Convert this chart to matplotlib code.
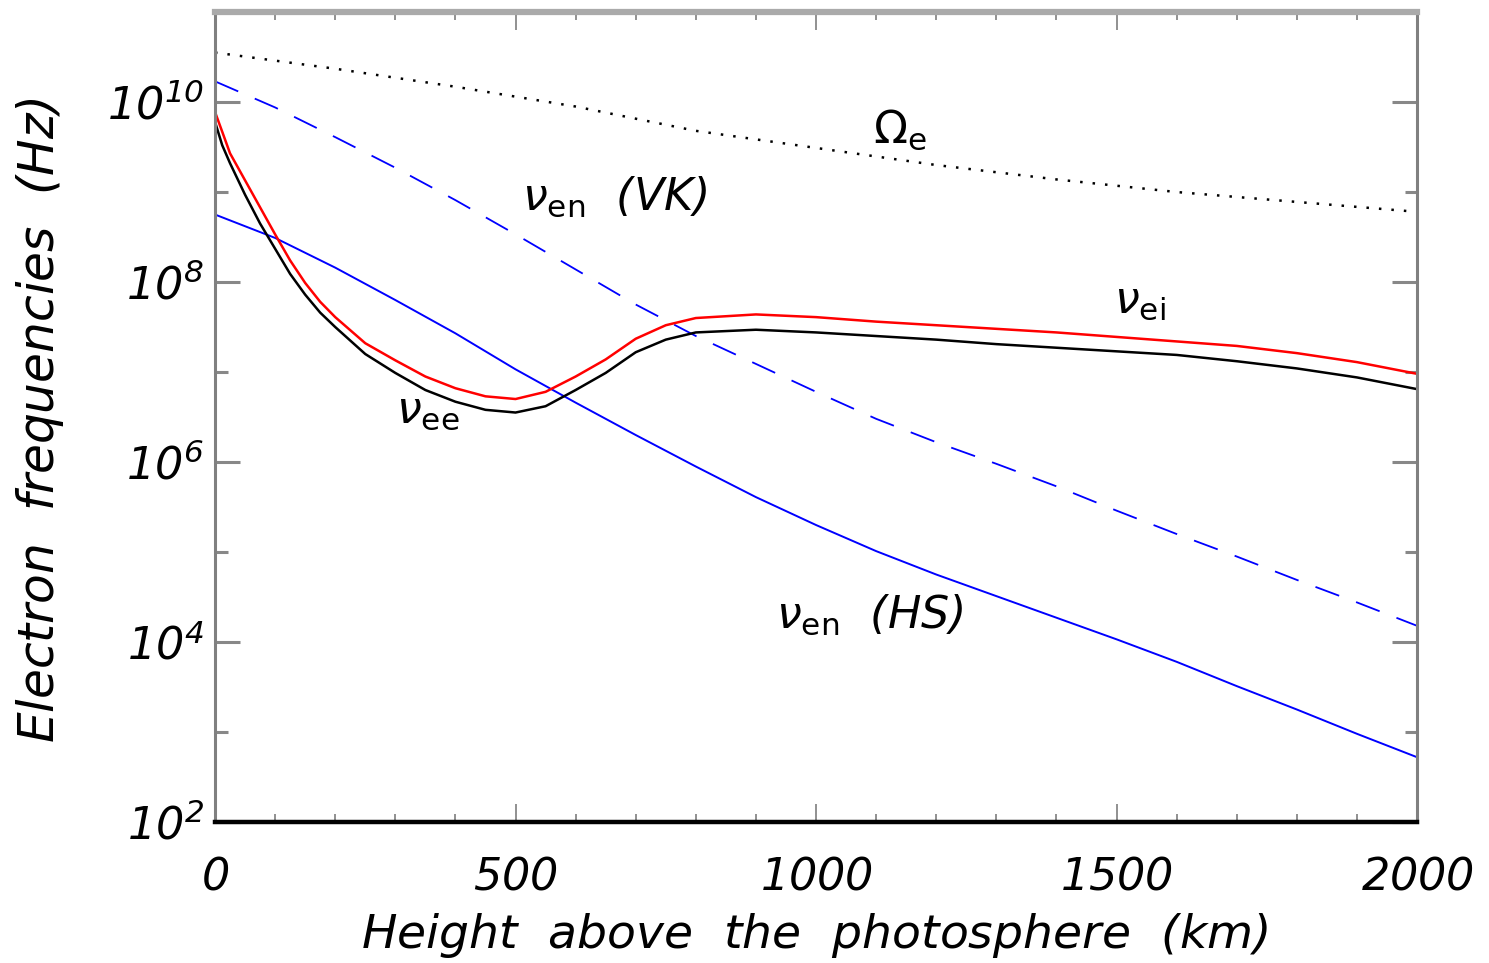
import numpy as np
import matplotlib
matplotlib.use("Agg")
import matplotlib.pyplot as plt
from matplotlib.ticker import FixedLocator, FuncFormatter, NullFormatter

# Height above the photosphere (km) for the collision curves
height_km = [0, 12, 25, 50, 75, 100, 125, 150, 175, 200, 250, 300, 350, 400,
             450, 500, 550, 600, 650, 700, 750, 800, 900, 1000, 1100, 1200,
             1300, 1400, 1500, 1600, 1700, 1800, 1900, 2000]

# log10 of the electron frequencies (Hz)
log_nu_ei = [9.89, 9.67, 9.43, 9.13, 8.83, 8.53, 8.24, 7.99, 7.78, 7.61, 7.32,
             7.13, 6.95, 6.82, 6.73, 6.70, 6.78, 6.95, 7.14, 7.37, 7.52, 7.60,
             7.64, 7.61, 7.56, 7.52, 7.48, 7.44, 7.39, 7.34, 7.29, 7.21, 7.11,
             6.98]
log_nu_ee = [9.78, 9.52, 9.32, 8.97, 8.65, 8.37, 8.09, 7.86, 7.66, 7.50, 7.20,
             6.99, 6.80, 6.67, 6.58, 6.55, 6.62, 6.80, 6.99, 7.22, 7.36, 7.44,
             7.47, 7.44, 7.40, 7.36, 7.31, 7.27, 7.23, 7.19, 7.12, 7.04, 6.94,
             6.81]

height_coarse = [0, 100, 200, 300, 400, 500, 600, 700, 800, 900, 1000, 1100,
                 1200, 1300, 1400, 1500, 1600, 1700, 1800, 1900, 2000]
log_nu_en_hs = [8.75, 8.49, 8.16, 7.80, 7.43, 7.03, 6.66, 6.30, 5.95, 5.61,
                5.30, 5.01, 4.75, 4.51, 4.27, 4.03, 3.78, 3.51, 3.25, 2.98, 2.72]
log_nu_en_vk = [10.23, 9.94, 9.61, 9.27, 8.91, 8.53, 8.14, 7.75, 7.40, 7.09,
                6.78, 6.48, 6.22, 5.98, 5.73, 5.46, 5.20, 4.95, 4.69, 4.44, 4.18]

height_omega = [0, 200, 400, 600, 800, 1000, 1200, 1400, 1600, 1800, 2000]
log_omega_e = [10.55, 10.37, 10.17, 9.95, 9.68, 9.49, 9.30, 9.14, 9.00, 8.89, 8.78]

major_decades = [2, 4, 6, 8, 10]
minor_decades = [3, 5, 7, 9]
x_ticks = [0, 500, 1000, 1500, 2000]


def main():
    """Electron collision / gyro frequencies versus height."""
    plt.rcParams['font.family'] = ['DejaVu Sans']
    # italic digits and letters, upright subscripts via \mathsf
    plt.rcParams['mathtext.fontset'] = 'custom'
    plt.rcParams['mathtext.rm'] = 'DejaVu Sans:italic'
    plt.rcParams['mathtext.it'] = 'DejaVu Sans:italic'
    plt.rcParams['mathtext.sf'] = 'DejaVu Sans'

    fig = plt.figure(figsize=(14.89, 9.63), dpi=100)
    ax = fig.add_axes([0.1444, 0.1464, 0.8073, 0.8411])

    h = np.array(height_km)
    hc = np.array(height_coarse)
    ho = np.array(height_omega)

    ax.plot(ho, 10.0 ** np.array(log_omega_e), color='black', lw=1.8,
            linestyle=(0, (1, 4)))
    line_vk, = ax.plot(hc, 10.0 ** np.array(log_nu_en_vk), color='#0000ff', lw=1.3)
    line_vk.set_dashes([14, 10])
    ax.plot(hc, 10.0 ** np.array(log_nu_en_hs), color='#0000ff', lw=1.4)
    ax.plot(h, 10.0 ** np.array(log_nu_ee), color='black', lw=1.8)
    ax.plot(h, 10.0 ** np.array(log_nu_ei), color='#ff0000', lw=1.8)

    ax.set_yscale('log')
    ax.set_xlim(0, 2000)
    ax.set_ylim(1e2, 1e11)

    # ticks
    ax.xaxis.set_major_locator(FixedLocator(x_ticks))
    ax.xaxis.set_minor_locator(FixedLocator(list(range(0, 2001, 100))))
    ax.yaxis.set_major_locator(FixedLocator([10.0 ** d for d in major_decades]))
    ax.yaxis.set_minor_locator(FixedLocator([10.0 ** d for d in minor_decades]))
    ax.yaxis.set_major_formatter(
        FuncFormatter(lambda v, p: r'$10^{%d}$' % int(round(np.log10(v)))))
    ax.yaxis.set_minor_formatter(NullFormatter())
    ax.xaxis.set_major_formatter(FuncFormatter(lambda v, p: r'$%d$' % v))

    ax.tick_params(axis='both', which='both', direction='in', top=True,
                   right=True, colors='#888888', labelcolor='black')
    ax.tick_params(axis='x', which='major', length=13, width=1.3, pad=24,
                   labelsize=32)
    ax.tick_params(axis='x', which='minor', length=6, width=1.3)
    ax.tick_params(axis='y', which='major', length=18, width=2.2, pad=8,
                   labelsize=32)
    ax.tick_params(axis='y', which='minor', length=9, width=2.2)

    for side in ['left', 'right']:
        ax.spines[side].set_color('#808080')
        ax.spines[side].set_linewidth(2.2)
    ax.spines['top'].set_color('#aaaaaa')
    ax.spines['top'].set_linewidth(4.5)
    ax.spines['bottom'].set_color('black')
    ax.spines['bottom'].set_linewidth(3.2)

    ax.set_xlabel(r'$Height\ \ above\ \ the\ \ photosphere\ \ (km)$',
                  fontsize=34, va='center')
    ax.xaxis.set_label_coords(0.499, -0.14)
    ax.set_ylabel(r'$Electron\ \ frequencies\ \ (Hz)$', fontsize=35,
                  va='center')
    ax.yaxis.set_label_coords(-0.146, 0.496)

    # curve labels
    txt = dict(fontsize=32, ha='center', va='center', color='black')
    ax.text(666, 10 ** 8.95, r'$\nu_{\mathsf{en}}\ \ (VK)$', **txt)
    ax.text(1140, 10 ** 9.69, r'$\mathsf{\Omega}_{\mathsf{e}}$', **txt)
    ax.text(1539, 10 ** 7.79, r'$\nu_{\mathsf{ei}}$', **txt)
    ax.text(354, 10 ** 6.57, r'$\nu_{\mathsf{ee}}$', **txt)
    ax.text(1090, 10 ** 4.30, r'$\nu_{\mathsf{en}}\ \ (HS)$', **txt)

    fig.savefig('out.png', dpi=100)


if __name__ == "__main__":
    main()
